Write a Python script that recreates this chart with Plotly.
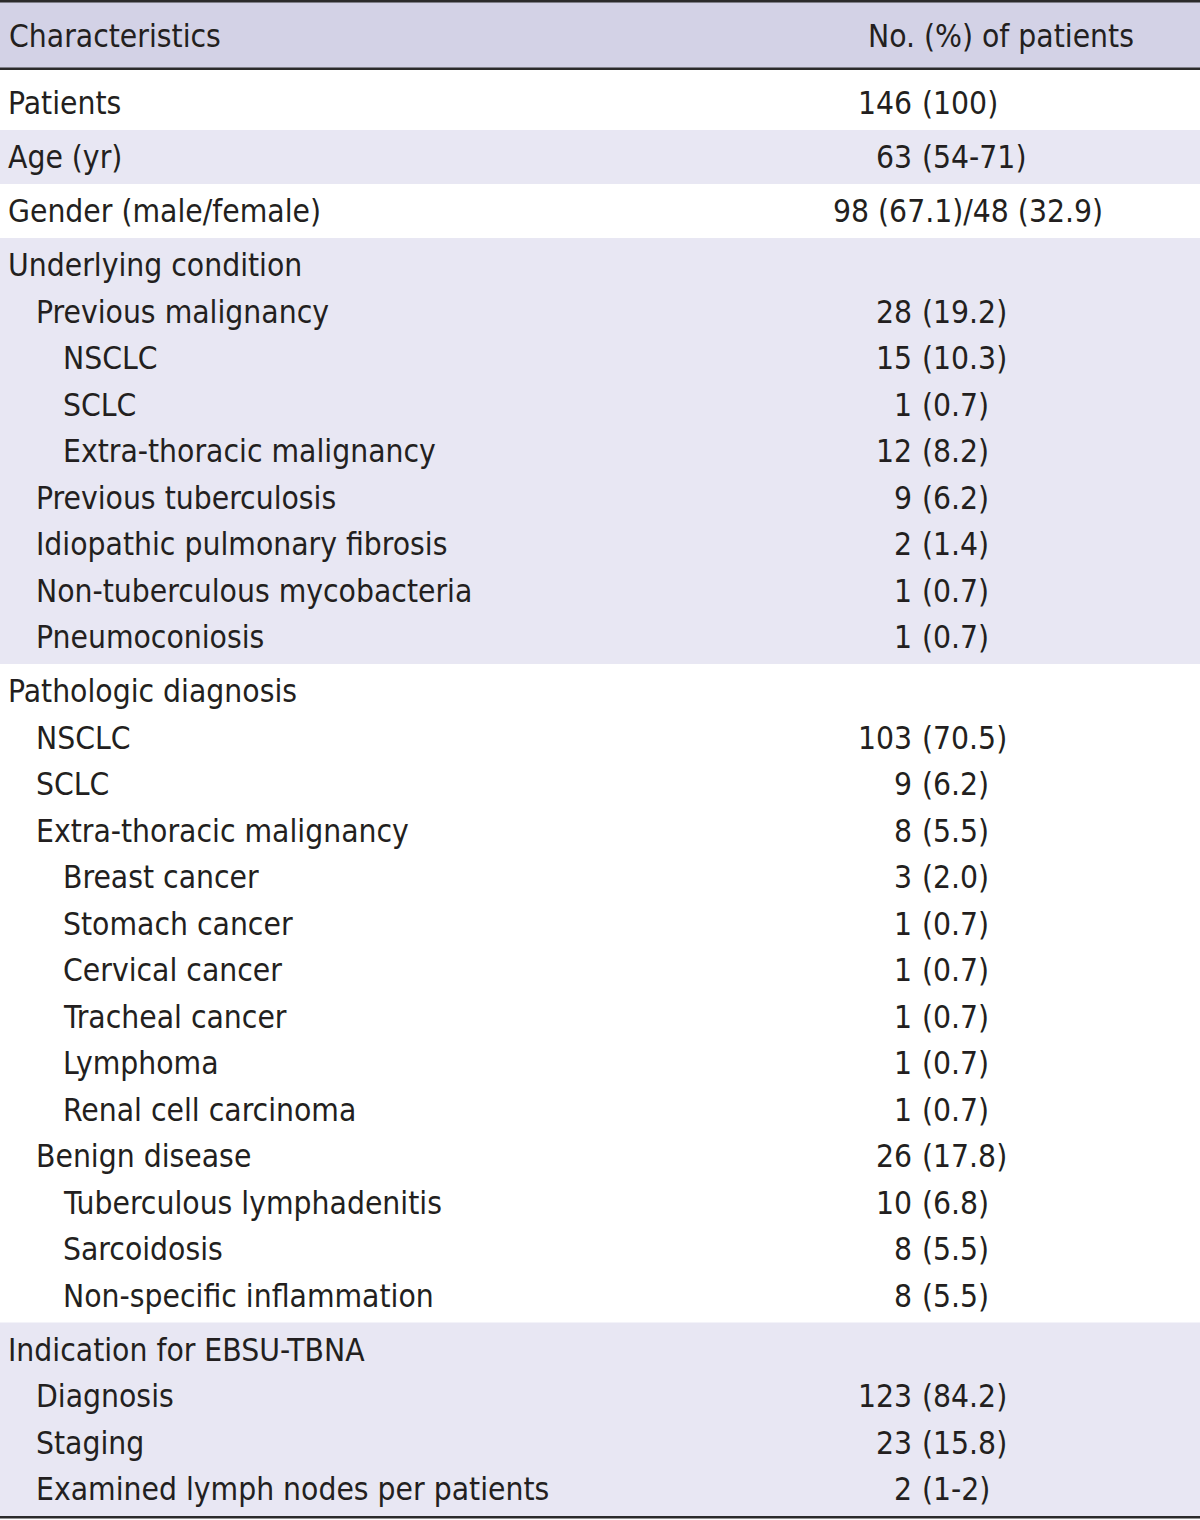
import plotly.graph_objects as go

# ---- data ----
header_left = "Characteristics"
header_right = "No. (%) of patients"

group_shaded = [False, True, False, True, False, True]

labels = [
    ["Patients"],
    ["Age (yr)"],
    ["Gender (male/female)"],
    ["Underlying condition", "Previous malignancy", "NSCLC", "SCLC",
     "Extra-thoracic malignancy", "Previous tuberculosis",
     "Idiopathic pulmonary fibrosis", "Non-tuberculous mycobacteria",
     "Pneumoconiosis"],
    ["Pathologic diagnosis", "NSCLC", "SCLC", "Extra-thoracic malignancy",
     "Breast cancer", "Stomach cancer", "Cervical cancer", "Tracheal cancer",
     "Lymphoma", "Renal cell carcinoma", "Benign disease",
     "Tuberculous lymphadenitis", "Sarcoidosis", "Non-specific inflammation"],
    ["Indication for EBSU-TBNA", "Diagnosis", "Staging",
     "Examined lymph nodes per patients"],
]
levels = [
    [0], [0], [0],
    [0, 1, 2, 2, 2, 1, 1, 1, 1],
    [0, 1, 1, 1, 2, 2, 2, 2, 2, 2, 1, 2, 2, 2],
    [0, 1, 1, 1],
]
values = [
    ["146 (100)"],
    ["63 (54-71)"],
    ["98 (67.1)/48 (32.9)"],
    ["", "28 (19.2)", "15 (10.3)", "1 (0.7)", "12 (8.2)", "9 (6.2)",
     "2 (1.4)", "1 (0.7)", "1 (0.7)"],
    ["", "103 (70.5)", "9 (6.2)", "8 (5.5)", "3 (2.0)", "1 (0.7)", "1 (0.7)",
     "1 (0.7)", "1 (0.7)", "1 (0.7)", "26 (17.8)", "10 (6.8)", "8 (5.5)",
     "8 (5.5)"],
    ["", "123 (84.2)", "23 (15.8)", "2 (1-2)"],
]

# ---- style / geometry ----
W, H = 1200, 1520
FONT = "DejaVu Sans Condensed, Liberation Sans Narrow, sans-serif"
FS = 31.5
TXT = "#231f20"
HEAD_BG = "#d3d2e6"
BAND_BG = "#e8e7f3"
LINE = "#2b2b2b"
indent_x = [7, 35, 62]
paren_x = 921
center_x = 968
pitch = 46.5
pad = 27
first_band = 54

fig = go.Figure()
shapes = []
annotations = []


def ann(x, y, text, anchor):
    return dict(x=x, y=y, xref="x", yref="y", text=text, xanchor=anchor,
                yanchor="middle", showarrow=False, borderpad=0,
                font=dict(family=FONT, size=FS, color=TXT))


# header
shapes.append(dict(type="rect", xref="x", yref="y", x0=0, x1=W, y0=2, y1=68,
                   fillcolor=HEAD_BG, line_width=0, layer="below"))
annotations.append(ann(8, 36, header_left, "left"))
annotations.append(ann(1001, 36, header_right, "center"))

cursor = 76.0
for gi, (labs, levs, vals) in enumerate(zip(labels, levels, values)):
    n = len(labs)
    band_h = first_band + (n - 1) * pitch
    top = cursor
    bottom = cursor + band_h
    if group_shaded[gi]:
        shapes.append(dict(type="rect", xref="x", yref="y", x0=0, x1=W,
                           y0=top, y1=bottom, fillcolor=BAND_BG,
                           line_width=0, layer="below"))
    for ri in range(n):
        yc = top + pad + ri * pitch
        annotations.append(ann(indent_x[levs[ri]], yc, labs[ri], "left"))
        v = vals[ri]
        if not v:
            continue
        if "/" in v:
            annotations.append(ann(center_x, yc, v, "center"))
        else:
            num, rest = v.split(" (", 1)
            annotations.append(ann(paren_x - 8, yc, num, "right"))
            annotations.append(ann(paren_x, yc, "(" + rest, "left"))
    cursor = bottom

# rules
for y0, y1 in [(0, 2.5), (67.5, 70), (cursor, cursor + 2.5)]:
    shapes.append(dict(type="rect", xref="x", yref="y", x0=0, x1=W,
                       y0=y0, y1=y1, fillcolor=LINE, line_width=0))

fig.add_trace(go.Scatter(x=[0, W], y=[0, H], mode="markers",
                         marker=dict(opacity=0), hoverinfo="skip",
                         showlegend=False))

fig.update_layout(
    width=W, height=H,
    margin=dict(l=0, r=0, t=0, b=0),
    paper_bgcolor="white", plot_bgcolor="white",
    xaxis=dict(range=[0, W], visible=False, fixedrange=True),
    yaxis=dict(range=[H, 0], visible=False, fixedrange=True),
    shapes=shapes, annotations=annotations, showlegend=False,
)

fig.write_html(
    "out.html",
    config={"displayModeBar": False},
    post_script="document.body.style.margin='0';document.body.style.overflow='hidden';",
)
